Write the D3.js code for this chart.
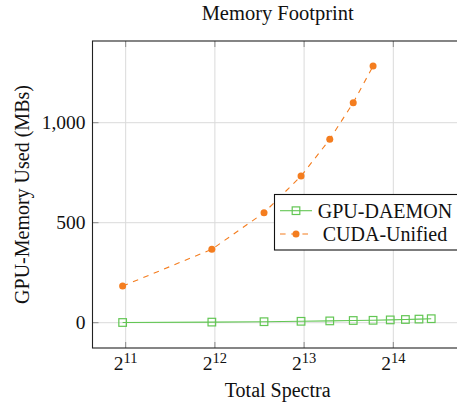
<!DOCTYPE html>
<html>
<head>
<meta charset="utf-8">
<script src="https://cdn.jsdelivr.net/npm/d3@7"></script>
<style>
  html, body { margin: 0; padding: 0; background: #fff; }
  svg { display: block; }
  text { font-family: "Liberation Serif", "Times New Roman", serif; fill: #111; }
</style>
</head>
<body>
<svg id="chart" width="457" height="407"></svg>
<script>
// ---- data ----
const seriesNames = ["GPU-DAEMON", "CUDA-Unified"];
const daemonX = [2000, 4000, 6000, 8000, 10000, 12000, 14000, 16000, 18000, 20000, 22000];
const daemonY = [1, 3, 5, 7, 9, 11, 12, 14, 16, 18, 20];
const unifiedX = [2000, 4000, 6000, 8000, 10000, 12000, 14000];
const unifiedY = [183, 367, 550, 733, 917, 1100, 1283];
const xTickExps = [11, 12, 13, 14];
const yTicks = [0, 500, 1000];
const titleText = "Memory Footprint";
const xLabel = "Total Spectra";
const yLabel = "GPU-Memory Used (MBs)";

// ---- layout ----
const svg = d3.select("#chart");
const pL = 92.5, pR = 462.8, pT = 41, pB = 348;
const green = "#62c653", orange = "#f47d1f";
const FS = 19.5;

const x = d3.scaleLog().base(2)
  .domain([Math.pow(2, 10.628), Math.pow(2, 14.779)])
  .range([pL, pR]);
const y = d3.scaleLinear().domain([-126.5, 1408.5]).range([pB, pT]);

svg.append("defs").append("clipPath").attr("id", "plotclip")
  .append("rect").attr("x", pL).attr("y", pT).attr("width", pR - pL).attr("height", pB - pT);

// grid
const grid = svg.append("g");
grid.selectAll(".gx").data(xTickExps).enter().append("line")
  .attr("x1", d => x(Math.pow(2, d))).attr("x2", d => x(Math.pow(2, d)))
  .attr("y1", pT).attr("y2", pB)
  .attr("stroke", "#dadada").attr("stroke-width", 1);
grid.selectAll(".gy").data(yTicks).enter().append("line")
  .attr("x1", pL).attr("x2", pR)
  .attr("y1", d => y(d)).attr("y2", d => y(d))
  .attr("stroke", "#dadada").attr("stroke-width", 1);

// ticks (inside, mirrored)
const tl = 6;
const ticks = svg.append("g").attr("stroke", "#8a8a8a").attr("stroke-width", 1);
xTickExps.forEach(e => {
  const px = x(Math.pow(2, e));
  ticks.append("line").attr("x1", px).attr("x2", px).attr("y1", pB).attr("y2", pB - tl);
  ticks.append("line").attr("x1", px).attr("x2", px).attr("y1", pT).attr("y2", pT + tl);
});
yTicks.forEach(v => {
  ticks.append("line").attr("x1", pL).attr("x2", pL + tl).attr("y1", y(v)).attr("y2", y(v));
});

// series
const plot = svg.append("g").attr("clip-path", "url(#plotclip)");
const daemon = daemonX.map((d, i) => [d, daemonY[i]]);
const unified = unifiedX.map((d, i) => [d, unifiedY[i]]);
const line = d3.line().x(d => x(d[0])).y(d => y(d[1]));

plot.append("path").datum(daemon).attr("d", line)
  .attr("fill", "none").attr("stroke", green).attr("stroke-width", 1.1);
plot.selectAll(".sq").data(daemon).enter().append("rect")
  .attr("x", d => x(d[0]) - 3.8).attr("y", d => y(d[1]) - 3.8)
  .attr("width", 7.6).attr("height", 7.6)
  .attr("fill", "none").attr("stroke", green).attr("stroke-width", 1.2);

plot.append("path").datum(unified).attr("d", line)
  .attr("fill", "none").attr("stroke", orange).attr("stroke-width", 1.1)
  .attr("stroke-dasharray", "5.6,5.6");
plot.selectAll(".dot").data(unified).enter().append("circle")
  .attr("cx", d => x(d[0])).attr("cy", d => y(d[1])).attr("r", 3.5)
  .attr("fill", orange);

// axis box
svg.append("rect").attr("x", pL).attr("y", pT).attr("width", pR - pL).attr("height", pB - pT)
  .attr("fill", "none").attr("stroke", "#222").attr("stroke-width", 1.1);

// tick labels
yTicks.forEach(v => {
  svg.append("text").attr("x", 85.5).attr("y", y(v)).attr("dy", "0.32em")
    .attr("text-anchor", "end").attr("font-size", FS)
    .text(d3.format(",")(v));
});
xTickExps.forEach(e => {
  const t = svg.append("text").attr("x", x(Math.pow(2, e))).attr("y", 370)
    .attr("text-anchor", "middle").attr("font-size", FS);
  t.append("tspan").text("2");
  t.append("tspan").attr("font-size", 14.5).attr("dy", -7.5).text(String(e));
});

// titles
svg.append("text").attr("x", (pL + pR) / 2).attr("y", 19.5)
  .attr("text-anchor", "middle").attr("font-size", 20.5).text(titleText);
svg.append("text").attr("x", (pL + pR) / 2).attr("y", 397)
  .attr("text-anchor", "middle").attr("font-size", 20).text(xLabel);
svg.append("text").attr("transform", "translate(28.5," + ((pT + pB) / 2) + ") rotate(-90)")
  .attr("text-anchor", "middle").attr("font-size", 20).text(yLabel);

// legend
const lg = svg.append("g");
lg.append("rect").attr("x", 274.5).attr("y", 194.5).attr("width", 190).attr("height", 55.5)
  .attr("fill", "#fff").attr("stroke", "#111").attr("stroke-width", 1.1);
const rows = [210.7, 234];
lg.append("line").attr("x1", 280).attr("x2", 312).attr("y1", rows[0]).attr("y2", rows[0])
  .attr("stroke", green).attr("stroke-width", 1.1);
lg.append("rect").attr("x", 296 - 3.8).attr("y", rows[0] - 3.8).attr("width", 7.6).attr("height", 7.6)
  .attr("fill", "none").attr("stroke", green).attr("stroke-width", 1.2);
lg.append("line").attr("x1", 280).attr("x2", 312).attr("y1", rows[1]).attr("y2", rows[1])
  .attr("stroke", orange).attr("stroke-width", 1.1).attr("stroke-dasharray", "5.6,5.6");
lg.append("circle").attr("cx", 296).attr("cy", rows[1]).attr("r", 3.5).attr("fill", orange);
seriesNames.forEach((n, i) => {
  lg.append("text").attr("x", 385).attr("y", rows[i]).attr("dy", "0.35em")
    .attr("text-anchor", "middle").attr("font-size", 20).text(n);
});
</script>
</body>
</html>
